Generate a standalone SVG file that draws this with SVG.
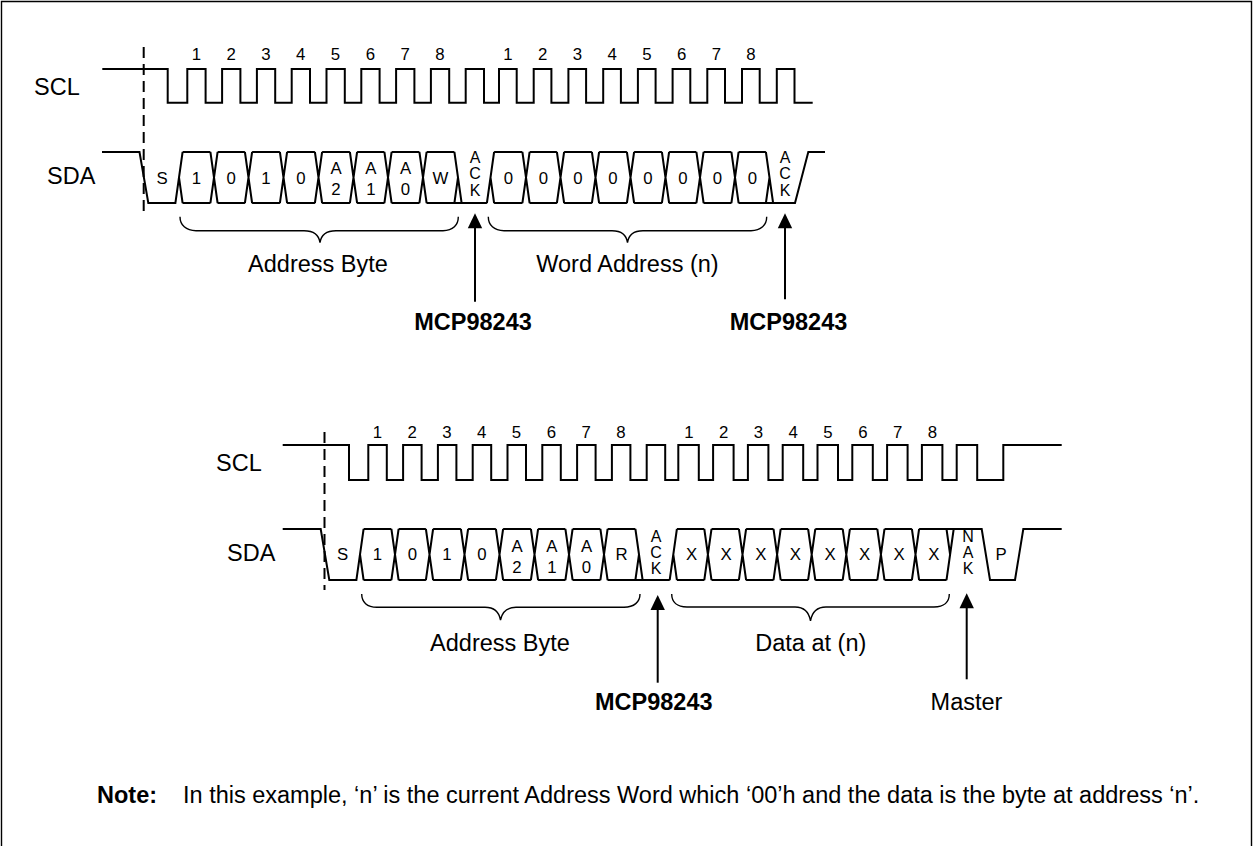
<svg xmlns="http://www.w3.org/2000/svg" width="1253" height="858" viewBox="0 0 1253 858">
<style>
.sig{fill:none;stroke:#000;stroke-width:2;stroke-linejoin:miter;stroke-linecap:butt}
.thin{fill:none;stroke:#000;stroke-width:1.4}
.dash{fill:none;stroke:#000;stroke-width:2;stroke-dasharray:11,6}
.lbl{font-family:"Liberation Sans",Arial,sans-serif;font-size:23.5px;fill:#000}
.bold{font-family:"Liberation Sans",Arial,sans-serif;font-size:23.5px;font-weight:bold;fill:#000}
.num{font-family:"Liberation Sans",Arial,sans-serif;font-size:16.8px;fill:#000;text-anchor:middle}
.cell{font-family:"Liberation Sans",Arial,sans-serif;font-size:16.8px;fill:#000;text-anchor:middle}
.stk{font-size:16px}
.mid{text-anchor:middle}
.head{fill:#000;stroke:none}
</style>
<rect width="1253" height="858" fill="#fff"/>
<path class="thin" d="M1.5,846 V1.5 H1251.5 V846"/>

<g id="row1">
  <g id="scl1">
    <text class="lbl" x="34" y="95">SCL</text>
    <path class="sig" d="M102.3,69 H167.7 V102.7 H187.3 V69 H205.6 V102.7 H222.1 V69 H240.4 V102.7 H256.9 V69 H275.2 V102.7 H291.7 V69 H310 V102.7 H326.5 V69 H344.8 V102.7 H361.3 V69 H379.6 V102.7 H396.1 V69 H414.4 V102.7 H430.9 V69 H449.2 V102.7 H465.7 V69 H484 V102.7 H499 V69 H516.7 V102.7 H533.7 V69 H551.4 V102.7 H568.4 V69 H586.1 V102.7 H603.2 V69 H620.9 V102.7 H637.9 V69 H655.6 V102.7 H672.6 V69 H690.3 V102.7 H707.3 V69 H725 V102.7 H742 V69 H759.7 V102.7 H776.8 V69 H794.5 V102.7 H812.7"/>
    <g class="num">
      <text x="196.3" y="60">1</text><text x="231.1" y="60">2</text><text x="265.9" y="60">3</text><text x="300.7" y="60">4</text><text x="335.5" y="60">5</text><text x="370.3" y="60">6</text><text x="405.1" y="60">7</text><text x="439.9" y="60">8</text>
      <text x="508" y="60">1</text><text x="542.7" y="60">2</text><text x="577.4" y="60">3</text><text x="612.2" y="60">4</text><text x="646.9" y="60">5</text><text x="681.6" y="60">6</text><text x="716.3" y="60">7</text><text x="751" y="60">8</text>
    </g>
  </g>
  <line class="dash" x1="143.7" y1="47" x2="143.7" y2="212"/>
  <g id="sda1">
    <text class="lbl" x="47" y="184">SDA</text>
    <path class="sig" d="M102,152 H139.5 L148.3,203 H175.4 L182.6,152 M179,177.5 L182.6,203
      M182.6,152 H210.4 M217.6,152 H244.9 M252.1,152 H279.9 M287.1,152 H314.9 M322.1,152 H349.9 M357.1,152 H384.4 M391.6,152 H419.4 M426.6,152 H454.4
      M182.6,203 H210.4 M217.6,203 H244.9 M252.1,203 H279.9 M287.1,203 H314.9 M322.1,203 H349.9 M357.1,203 H384.4 M391.6,203 H419.4 M426.6,203 H486.9
      M210.4,152 L217.6,203 M210.4,203 L217.6,152 M244.9,152 L252.1,203 M244.9,203 L252.1,152 M279.9,152 L287.1,203 M279.9,203 L287.1,152 M314.9,152 L322.1,203 M314.9,203 L322.1,152 M349.9,152 L357.1,203 M349.9,203 L357.1,152 M384.4,152 L391.6,203 M384.4,203 L391.6,152 M419.4,152 L426.6,203 M419.4,203 L426.6,152
      M454.4,152 L461.6,203 M454.4,203 L458,177.5
      M486.9,203 L494.1,152 M490.5,177.5 L494.1,203
      M494.1,152 H522.4 M529.6,152 H556.9 M564.1,152 H591.9 M599.1,152 H626.9 M634.1,152 H661.9 M669.1,152 H696.4 M703.6,152 H731.4 M738.6,152 H765.9
      M494.1,203 H522.4 M529.6,203 H556.9 M564.1,203 H591.9 M599.1,203 H626.9 M634.1,203 H661.9 M669.1,203 H696.4 M703.6,203 H731.4 M738.6,203 H795 L808.3,152 H825
      M522.4,152 L529.6,203 M522.4,203 L529.6,152 M556.9,152 L564.1,203 M556.9,203 L564.1,152 M591.9,152 L599.1,203 M591.9,203 L599.1,152 M626.9,152 L634.1,203 M626.9,203 L634.1,152 M661.9,152 L669.1,203 M661.9,203 L669.1,152 M696.4,152 L703.6,203 M696.4,203 L703.6,152 M731.4,152 L738.6,203 M731.4,203 L738.6,152
      M765.9,152 L773.1,203 M765.9,203 L769.5,177.5"/>
    <g class="cell">
      <text x="162" y="183.5">S</text>
      <text x="196.5" y="183.5">1</text><text x="231.2" y="183.5">0</text><text x="266" y="183.5">1</text><text x="301" y="183.5">0</text>
      <text x="336" y="173.5">A<tspan x="336" y="195">2</tspan></text>
      <text x="370.8" y="173.5">A<tspan x="370.8" y="195">1</tspan></text>
      <text x="405.5" y="173.5">A<tspan x="405.5" y="195">0</tspan></text>
      <text x="440.5" y="183.5">W</text>
      <text class="stk" x="475" y="163">A<tspan x="475" y="179">C</tspan><tspan x="475" y="195.5">K</tspan></text>
      <text x="508.3" y="183.5">0</text><text x="543.3" y="183.5">0</text><text x="578" y="183.5">0</text><text x="613" y="183.5">0</text><text x="648" y="183.5">0</text><text x="682.8" y="183.5">0</text><text x="717.5" y="183.5">0</text><text x="752.3" y="183.5">0</text>
      <text class="stk" x="785" y="163">A<tspan x="785" y="179">C</tspan><tspan x="785" y="195.5">K</tspan></text>
    </g>
  </g>
  <g id="brace-addr1">
    <path class="thin" d="M180,216.7 C180,225 186,230.7 196,230.7 H304 C314,230.7 319,235 320,242.7 C321,235 326,230.7 336,230.7 H443 C453,230.7 458.3,225 458.3,216.7"/>
    <text class="lbl mid" x="318" y="271.7">Address Byte</text>
  </g>
  <g id="brace-word1">
    <path class="thin" d="M488.3,216.7 C488.3,225 494,230.7 504,230.7 H612 C621,230.7 626.5,235 627.5,242.7 C628.5,235 634,230.7 643,230.7 H751 C761,230.7 766.7,225 766.7,216.7"/>
    <text class="lbl mid" x="627.5" y="271.7">Word Address (n)</text>
  </g>
  <g id="mcp1">
    <text class="bold mid" x="473" y="330">MCP98243</text>
  </g>
  <g id="mcp2">
    <text class="bold mid" x="788.5" y="330">MCP98243</text>
  </g>
</g>

<g id="row2">
  <g id="scl2">
    <text class="lbl" x="216" y="471">SCL</text>
    <path class="sig" d="M282.7,445 H349 V480 H368.3 V445 H386.8 V480 H403.1 V445 H421.6 V480 H437.9 V445 H456.4 V480 H472.7 V445 H491.2 V480 H507.5 V445 H526 V480 H542.3 V445 H560.8 V480 H577.1 V445 H595.6 V480 H611.9 V445 H630.4 V480 H646.7 V445 H665.2 V480 H678.3 V445 H698.8 V480 H713.1 V445 H733.6 V480 H747.9 V445 H768.4 V480 H782.7 V445 H803.2 V480 H817.5 V445 H838 V480 H852.3 V445 H872.8 V480 H887.1 V445 H907.6 V480 H921.9 V445 H942.4 V480 H956.7 V445 H977.2 V480 H1003.3 V445 H1061.7"/>
    <g class="num">
      <text x="377.3" y="437.5">1</text><text x="412.1" y="437.5">2</text><text x="446.9" y="437.5">3</text><text x="481.7" y="437.5">4</text><text x="516.5" y="437.5">5</text><text x="551.3" y="437.5">6</text><text x="586.1" y="437.5">7</text><text x="620.9" y="437.5">8</text>
      <text x="688.8" y="437.5">1</text><text x="723.6" y="437.5">2</text><text x="758.4" y="437.5">3</text><text x="793.2" y="437.5">4</text><text x="828" y="437.5">5</text><text x="862.8" y="437.5">6</text><text x="897.6" y="437.5">7</text><text x="932.4" y="437.5">8</text>
    </g>
  </g>
  <line class="dash" x1="324.5" y1="432" x2="324.5" y2="590"/>
  <g id="sda2">
    <text class="lbl" x="227" y="561">SDA</text>
    <path class="sig" d="M282.7,529 H320.7 L329.3,580 H356.4 L363.6,529 M360,554.5 L363.6,580
      M363.6,529 H391.4 M398.6,529 H425.9 M433.1,529 H460.9 M468.1,529 H495.9 M503.1,529 H530.9 M538.1,529 H565.4 M572.6,529 H600.4 M607.6,529 H635.4
      M363.6,580 H391.4 M398.6,580 H425.9 M433.1,580 H460.9 M468.1,580 H495.9 M503.1,580 H530.9 M538.1,580 H565.4 M572.6,580 H600.4 M607.6,580 H669.7
      M391.4,529 L398.6,580 M391.4,580 L398.6,529 M425.9,529 L433.1,580 M425.9,580 L433.1,529 M460.9,529 L468.1,580 M460.9,580 L468.1,529 M495.9,529 L503.1,580 M495.9,580 L503.1,529 M530.9,529 L538.1,580 M530.9,580 L538.1,529 M565.4,529 L572.6,580 M565.4,580 L572.6,529 M600.4,529 L607.6,580 M600.4,580 L607.6,529
      M635.4,529 L642.6,580 M635.4,580 L639,554.5
      M669.7,580 L676.9,529 M673.3,554.5 L676.9,580
      M676.9,529 H704.3 M711.5,529 H738.9 M746.1,529 H773.5 M780.7,529 H808.1 M815.3,529 H842.7 M849.9,529 H877.3 M884.5,529 H911.9 M919.1,529 H981.7 L990,580 H1015 L1023.3,529 H1061.7
      M676.9,580 H704.3 M711.5,580 H738.9 M746.1,580 H773.5 M780.7,580 H808.1 M815.3,580 H842.7 M849.9,580 H877.3 M884.5,580 H911.9 M919.1,580 H946.5
      M704.3,529 L711.5,580 M704.3,580 L711.5,529 M738.9,529 L746.1,580 M738.9,580 L746.1,529 M773.5,529 L780.7,580 M773.5,580 L780.7,529 M808.1,529 L815.3,580 M808.1,580 L815.3,529 M842.7,529 L849.9,580 M842.7,580 L849.9,529 M877.3,529 L884.5,580 M877.3,580 L884.5,529 M911.9,529 L919.1,580 M911.9,580 L919.1,529
      M946.5,580 L953.7,529 M946.5,529 L950.1,554.5"/>
    <g class="cell">
      <text x="342.7" y="560">S</text>
      <text x="377.5" y="560">1</text><text x="412.3" y="560">0</text><text x="447" y="560">1</text><text x="482" y="560">0</text>
      <text x="517" y="551.5">A<tspan x="517" y="572.5">2</tspan></text>
      <text x="551.8" y="551.5">A<tspan x="551.8" y="572.5">1</tspan></text>
      <text x="586.5" y="551.5">A<tspan x="586.5" y="572.5">0</tspan></text>
      <text x="621.5" y="560">R</text>
      <text class="stk" x="656" y="541.7">A<tspan x="656" y="557.5">C</tspan><tspan x="656" y="573.5">K</tspan></text>
      <text x="691.5" y="560">X</text><text x="726.2" y="560">X</text><text x="760.8" y="560">X</text><text x="795.4" y="560">X</text><text x="830" y="560">X</text><text x="864.6" y="560">X</text><text x="899.2" y="560">X</text><text x="933.8" y="560">X</text>
      <text class="stk" x="968" y="541.7">N<tspan x="968" y="557.5">A</tspan><tspan x="968" y="573.5">K</tspan></text>
      <text x="1001" y="560">P</text>
    </g>
  </g>
  <g id="brace-addr2">
    <path class="thin" d="M361.7,594 C361.7,602 367,607.3 377,607.3 H485 C494,607.3 499,612 500.5,620 C502,612 507,607.3 516,607.3 H624 C634,607.3 640,602 640,594"/>
    <text class="lbl mid" x="500" y="650.7">Address Byte</text>
  </g>
  <g id="brace-data2">
    <path class="thin" d="M671.7,594 C671.7,602 677,607 687,607 H795 C804,607 809,612 810.5,621 C812,612 817,607 826,607 H934 C944,607 949.3,602 949.3,594"/>
    <text class="lbl mid" x="810.8" y="650.7">Data at (n)</text>
  </g>
  <g id="mcp3">
    <text class="bold mid" x="653.8" y="710">MCP98243</text>
  </g>
  <g id="master">
    <text class="lbl mid" x="966.5" y="710">Master</text>
  </g>
</g>

<g id="connectors">
  <line class="sig" x1="475" y1="227" x2="475" y2="301.7"/>
  <polygon class="head" points="475,213.3 482.2,228.3 467.8,228.3"/>
  <line class="sig" x1="785" y1="227" x2="785" y2="299.3"/>
  <polygon class="head" points="785,213.3 792.2,228.3 777.8,228.3"/>
  <line class="sig" x1="657.7" y1="609" x2="657.7" y2="682.7"/>
  <polygon class="head" points="657.7,595 664.9,610 650.5,610"/>
  <line class="sig" x1="966.7" y1="607" x2="966.7" y2="679.3"/>
  <polygon class="head" points="966.7,593.3 973.9,608.3 959.5,608.3"/>
</g>

<g id="note">
  <text class="bold" x="97" y="803">Note:</text>
  <text class="lbl" x="183" y="803">In this example, ‘n’ is the current Address Word which ‘00’h and the data is the byte at address ‘n’.</text>
</g>
</svg>
